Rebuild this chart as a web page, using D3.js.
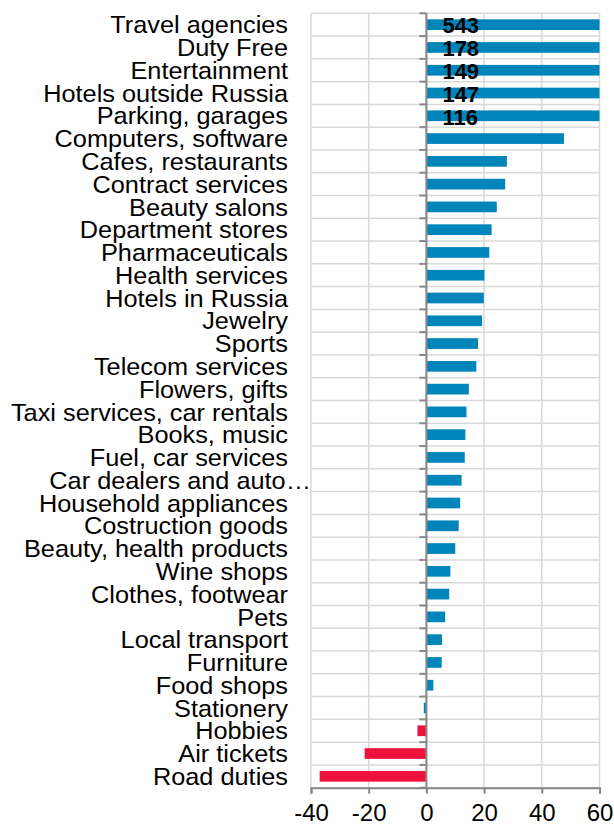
<!DOCTYPE html>
<html>
<head>
<meta charset="utf-8">
<script src="https://cdn.jsdelivr.net/npm/d3@7"></script>
<style>
  body { margin: 0; background: #fff; }
  text { font-family: "Liberation Sans", Arial, sans-serif; }
</style>
</head>
<body>
<svg id="chart" width="614" height="826"></svg>
<script>
var categories = ["Travel agencies", "Duty Free", "Entertainment", "Hotels outside Russia",
  "Parking, garages", "Computers, software", "Cafes, restaurants", "Contract services",
  "Beauty salons", "Department stores", "Pharmaceuticals", "Health services",
  "Hotels in Russia", "Jewelry", "Sports", "Telecom services", "Flowers, gifts",
  "Taxi services, car rentals", "Books, music", "Fuel, car services",
  "Car dealers and auto\u2026", "Household appliances", "Costruction goods",
  "Beauty, health products", "Wine shops", "Clothes, footwear", "Pets",
  "Local transport", "Furniture", "Food shops", "Stationery", "Hobbies",
  "Air tickets", "Road duties"];
var values = [543, 178, 149, 147, 116, 47.7, 27.9, 27.3,
  24.4, 22.6, 21.8, 20.1, 19.9, 19.3, 17.9, 17.3, 14.7,
  13.9, 13.5, 13.3, 12.2, 11.7, 11.2, 10.0, 8.3, 7.9, 6.5,
  5.4, 5.3, 2.4, -0.9, -3.1, -21.4, -37];
var xTicks = [-40, -20, 0, 20, 40, 60];
var labelled = [0, 1, 2, 3, 4]; // bars running off the axis get their value written

var svg = d3.select("#chart");
var plotLeft = 311, plotRight = 599.5, plotTop = 13.3, plotBottom = 787.7;

var x = d3.scaleLinear().domain([-40, 60]).range([plotLeft, plotRight]).clamp(true);
var y = d3.scaleBand().domain(categories).range([plotTop, plotBottom])
  .paddingInner(0.53).paddingOuter(0.265);
var step = y.step();

// vertical gridlines
svg.append("g").selectAll("line").data(xTicks).join("line")
  .attr("x1", d => x(d)).attr("x2", d => x(d))
  .attr("y1", plotTop).attr("y2", plotBottom)
  .style("stroke", "#d9d9d9").style("stroke-width", 1.5);

// horizontal gridlines between categories
svg.append("g").selectAll("line").data(d3.range(categories.length + 1)).join("line")
  .attr("x1", plotLeft).attr("x2", plotRight)
  .attr("y1", d => plotTop + d * step).attr("y2", d => plotTop + d * step)
  .style("stroke", "#d9d9d9").style("stroke-width", 1.5);

// bars
svg.append("g").selectAll("rect").data(values).join("rect")
  .attr("x", d => Math.min(x(0), x(d)))
  .attr("width", d => Math.abs(x(d) - x(0)))
  .attr("y", (d, i) => y(categories[i]))
  .attr("height", y.bandwidth())
  .style("fill", d => d < -2 ? "#ef123c" : "#0085ba");

// zero axis with tick marks on the left
var zero = svg.append("g");
zero.append("line")
  .attr("x1", x(0)).attr("x2", x(0)).attr("y1", plotTop).attr("y2", plotBottom)
  .style("stroke", "#888").style("stroke-width", 2);
zero.selectAll("line.tk").data(d3.range(categories.length + 1)).join("line")
  .attr("class", "tk")
  .attr("x1", x(0) - 7).attr("x2", x(0))
  .attr("y1", d => plotTop + d * step).attr("y2", d => plotTop + d * step)
  .style("stroke", "#888").style("stroke-width", 2);

// bottom axis
var xAxis = svg.append("g")
  .attr("transform", "translate(0," + plotBottom + ")")
  .call(d3.axisBottom(x).tickValues(xTicks).tickSize(6).tickPadding(10).tickFormat(d3.format("d")));
xAxis.select(".domain").style("stroke", "#888").style("stroke-width", 2);
xAxis.selectAll(".tick line").style("stroke", "#888").style("stroke-width", 2);
xAxis.selectAll(".tick text")
  .style("font-size", "24px").style("fill", "#000")
  .style("font-family", "'Liberation Sans', Arial, sans-serif")
  .text(d => d < 0 ? "-" + Math.abs(d) : d);

// category labels (a touch wider than Liberation Sans, like the original)
svg.append("g").selectAll("text").data(categories).join("text")
  .attr("transform", d => "translate(" + (d.endsWith("\u2026") ? 311 : 288) + ","
    + (y(d) + y.bandwidth() / 2) + ") scale(1.055,1)")
  .attr("dy", "0.36em")
  .attr("text-anchor", "end")
  .style("font-size", "24px")
  .style("fill", "#000")
  .text(d => d);

// value labels on clipped bars
svg.append("g").selectAll("text").data(labelled).join("text")
  .attr("x", x(0) + 16)
  .attr("y", i => y(categories[i]) + y.bandwidth() / 2)
  .attr("dy", "0.4em")
  .style("font-size", "22px")
  .style("font-weight", "bold")
  .style("fill", "#000")
  .text(i => values[i]);
</script>
</body>
</html>
